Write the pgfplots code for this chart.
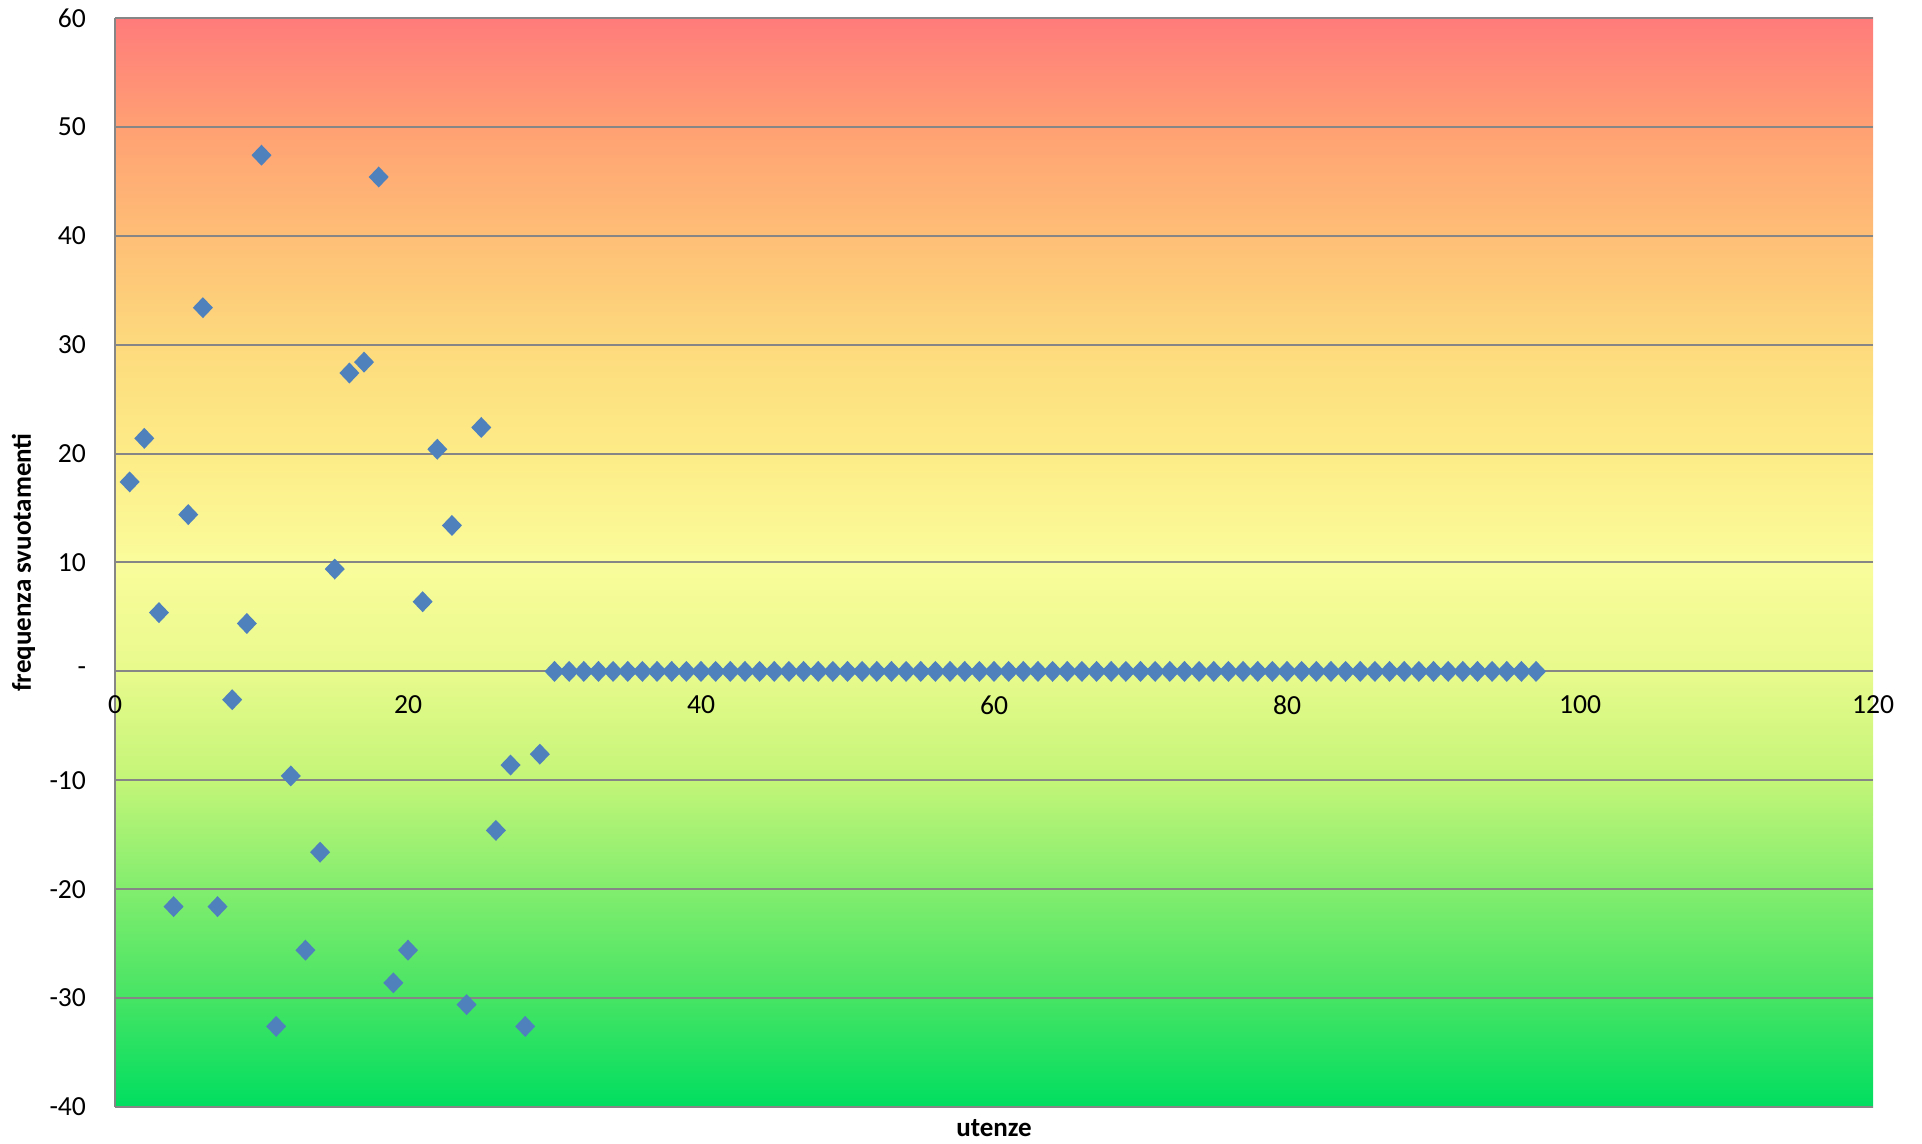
\documentclass[border=0pt]{standalone}
\usepackage{pgfplots}
\pgfplotsset{compat=1.18}
\usepackage{pgfplotstable}
\usepackage{fontspec}
\setmainfont{Carlito}

\definecolor{markblue}{RGB}{79,129,189}
\definecolor{gridgray}{RGB}{134,134,134}
\definecolor{zm40}{RGB}{0,222,96}
\definecolor{zm30}{RGB}{70,228,100}
\definecolor{zm20}{RGB}{130,237,110}
\definecolor{zm10}{RGB}{195,245,120}
\definecolor{z00}{RGB}{232,250,140}
\definecolor{z10}{RGB}{250,252,155}
\definecolor{z20}{RGB}{253,236,135}
\definecolor{z30}{RGB}{253,218,125}
\definecolor{z40}{RGB}{254,190,118}
\definecolor{z50}{RGB}{255,160,115}
\definecolor{z60}{RGB}{255,123,123}

% bottom -> top, the middle 25bp..75bp is fitted to the plot area
\pgfdeclareverticalshading{zones}{100bp}{
  color(0bp)=(zm40); color(25bp)=(zm40); color(30bp)=(zm30);
  color(35bp)=(zm20); color(40bp)=(zm10); color(45bp)=(z00);
  color(50bp)=(z10); color(55bp)=(z20); color(60bp)=(z30);
  color(65bp)=(z40); color(70bp)=(z50); color(75bp)=(z60);
  color(100bp)=(z60)}

% Excel-like diamond, almost as wide as tall
\pgfdeclareplotmark{xdiamond}{%
  \pgfpathmoveto{\pgfqpoint{0pt}{1.05\pgfplotmarksize}}%
  \pgfpathlineto{\pgfqpoint{\pgfplotmarksize}{0pt}}%
  \pgfpathlineto{\pgfqpoint{0pt}{-1.05\pgfplotmarksize}}%
  \pgfpathlineto{\pgfqpoint{-\pgfplotmarksize}{0pt}}%
  \pgfpathclose
  \pgfusepathqfill}

\pgfplotstableread{
x y
1 17.4
2 21.4
3 5.4
4 -21.6
5 14.4
6 33.4
7 -21.6
8 -2.6
9 4.4
10 47.4
11 -32.6
12 -9.6
13 -25.6
14 -16.6
15 9.4
16 27.4
17 28.4
18 45.4
19 -28.6
20 -25.6
21 6.4
22 20.4
23 13.4
24 -30.6
25 22.4
26 -14.6
27 -8.6
28 -32.6
29 -7.6
30 0
31 0
32 0
33 0
34 0
35 0
36 0
37 0
38 0
39 0
40 0
41 0
42 0
43 0
44 0
45 0
46 0
47 0
48 0
49 0
50 0
51 0
52 0
53 0
54 0
55 0
56 0
57 0
58 0
59 0
60 0
61 0
62 0
63 0
64 0
65 0
66 0
67 0
68 0
69 0
70 0
71 0
72 0
73 0
74 0
75 0
76 0
77 0
78 0
79 0
80 0
81 0
82 0
83 0
84 0
85 0
86 0
87 0
88 0
89 0
90 0
91 0
92 0
93 0
94 0
95 0
96 0
97 0
}\utenze

\begin{document}
\begin{tikzpicture}
\begin{axis}[
  scale only axis,
  width=879bp, height=544.5bp,
  xmin=0, xmax=120, ymin=-40, ymax=60,
  axis x line*=middle, axis y line*=left,
  hide obscured x ticks=false, hide obscured y ticks=false,
  axis line style={gridgray, line width=1bp},
  axis background/.style={shading=zones},
  xtick={0,20,...,120},
  ytick={-40,-30,...,60},
  yticklabels={-40,-30,-20,-10,-,10,20,30,40,50,60},
  ymajorgrids,
  grid style={gridgray, line width=1bp},
  major tick length=0pt,
  tick style={draw=none},
  /pgf/number format/assume math mode=true,
  ticklabel style={font=\fontsize{13.8bp}{16bp}\selectfont},
  xticklabel style={yshift=-8.5bp},
  yticklabel style={xshift=-11bp},
  xlabel={\textbf{utenze}},
  ylabel={\textbf{frequenza svuotamenti}},
  label style={font=\fontsize{13.5bp}{16bp}\selectfont},
  xlabel style={at={(axis description cs:0.5,0)}, anchor=center, yshift=-10.5bp},
  ylabel style={at={(axis description cs:-0.052,0.5)}, anchor=center},
  clip=false,
]
\addplot[only marks, mark=xdiamond, mark size=5bp,
  mark options={fill=markblue}] table[x=x, y=y] {\utenze};
\end{axis}
\path ([xshift=-57.5bp,yshift=-18bp]current axis.south west)
  rectangle ([xshift=24.5bp,yshift=9bp]current axis.north east);
\end{tikzpicture}
\end{document}
